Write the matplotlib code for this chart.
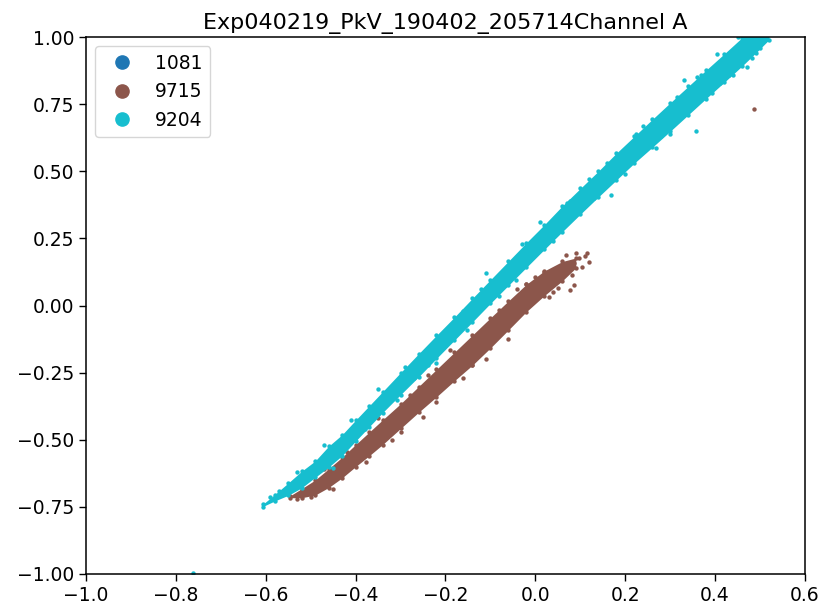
import numpy as np
import matplotlib
matplotlib.use('Agg')
import matplotlib.pyplot as plt
from matplotlib.lines import Line2D

# Data

title = 'Exp040219_PkV_190402_205714Channel A'
labels = ['1081', '9715', '9204']
colors = ['#1f77b4', '#8c564b', '#17becf']

# band 9204 (cyan): x and upper / lower edges of the dense point cloud
cyan_x = [-0.607, -0.58, -0.55, -0.52, -0.49, -0.46, -0.43, -0.40, -0.37, -0.34, -0.30, -0.26, -0.22, -0.18,
          -0.14, -0.10, -0.06, -0.02, 0.02, 0.06, 0.10, 0.14, 0.18, 0.22, 0.26, 0.30, 0.34, 0.38, 0.42, 0.46,
          0.49, 0.52]
cyan_hi = [-0.741, -0.704, -0.661, -0.617, -0.579, -0.524, -0.481, -0.427, -0.374, -0.321, -0.250, -0.180,
           -0.111, -0.043, 0.027, 0.096, 0.165, 0.234, 0.301, 0.371, 0.436, 0.500, 0.567, 0.630, 0.693, 0.755,
           0.816, 0.877, 0.937, 0.998, 1.04, 1.06]
cyan_lo = [-0.749, -0.728, -0.707, -0.679, -0.640, -0.602, -0.559, -0.505, -0.452, -0.399, -0.332, -0.266,
           -0.197, -0.129, -0.061, 0.008, 0.075, 0.142, 0.209, 0.275, 0.340, 0.404, 0.467, 0.530, 0.589, 0.649,
           0.710, 0.771, 0.831, 0.892, 0.94, 0.99]
# loose cyan points around the band
cyan_px = [-0.59, -0.57, -0.53, -0.47, -0.45, -0.41, -0.38, -0.309, -0.29, -0.24, -0.22, -0.20, -0.153, -0.12,
           -0.08, -0.042, -0.03, 0.01, 0.04, 0.076, 0.12, 0.16, 0.169, 0.224, 0.269, 0.316, 0.358, 0.369, 0.393,
           0.404, 0.431, 0.44, 0.482, 0.45, 0.50, 0.51, 0.33, 0.28, 0.20, -0.35, -0.27, -0.16, -0.11, -0.05,
           0.07, 0.13, 0.24, 0.30, 0.36, 0.41, 0.47, -0.762]
cyan_py = [-0.715, -0.690, -0.62, -0.52, -0.605, -0.425, -0.46, -0.352, -0.23, -0.222, -0.214, -0.10, -0.091, 0.06,
           0.035, 0.095, 0.23, 0.31, 0.24, 0.39, 0.47, 0.53, 0.41, 0.64, 0.587, 0.775, 0.65, 0.857, 0.791,
           0.936, 0.858, 0.86, 0.922, 1.0, 0.96, 0.99, 0.84, 0.63, 0.49, -0.31, -0.27, -0.02, 0.12, 0.11,
           0.38, 0.40, 0.67, 0.64, 0.85, 0.83, 0.89, -0.996]

# band 9715 (brown)
brown_x = [-0.545, -0.52, -0.49, -0.46, -0.43, -0.40, -0.37, -0.34, -0.30, -0.26, -0.22, -0.18, -0.14, -0.10,
           -0.06, -0.02, 0.02, 0.06, 0.09]
brown_hi = [-0.708, -0.682, -0.650, -0.608, -0.565, -0.518, -0.472, -0.426, -0.366, -0.302, -0.238, -0.174,
            -0.110, -0.046, 0.017, 0.079, 0.129, 0.164, 0.177]
brown_lo = [-0.716, -0.716, -0.706, -0.678, -0.642, -0.600, -0.560, -0.518, -0.458, -0.398, -0.340, -0.280,
            -0.222, -0.158, -0.091, -0.023, 0.037, 0.092, 0.140]
brown_px = [-0.53, -0.50, -0.47, -0.45, -0.376, -0.35, -0.32, -0.28, -0.25, -0.22, -0.19, -0.16, -0.109, -0.12,
            -0.08, -0.06, -0.04, -0.036, 0.00, 0.02, 0.03, 0.05, 0.069, 0.076, 0.082, 0.087, 0.087, 0.091, 0.098,
            0.104, 0.116, 0.12, 0.11, -0.42, -0.30, -0.24, -0.14, -0.02, 0.04, 0.487]
brown_py = [-0.72, -0.712, -0.61, -0.685, -0.583, -0.42, -0.50, -0.335, -0.415, -0.36, -0.165, -0.27, -0.20, -0.10,
            -0.015, -0.125, 0.06, 0.02, 0.105, 0.126, 0.03, 0.065, 0.188, 0.058, 0.114, 0.076, 0.158, 0.196, 0.177,
            0.143, 0.196, 0.162, 0.185, -0.545, -0.47, -0.26, -0.22, 0.08, 0.05, 0.732]

# series 1081 has no visible points
blue_px = []
blue_py = []

plt.rcParams['font.family'] = 'DejaVu Sans'
plt.rcParams['font.size'] = 13.5

fig = plt.figure(figsize=(8.22, 6.09), dpi=100)
ax = fig.add_axes([0.1046, 0.0575, 0.8747, 0.8817])

ax.scatter(blue_px, blue_py, s=8, color=colors[0], linewidths=0)

ax.fill_between(brown_x, brown_lo, brown_hi, color=colors[1], linewidth=0)
ax.scatter(brown_x, brown_hi, s=10, color=colors[1], linewidths=0)
ax.scatter(brown_x, brown_lo, s=10, color=colors[1], linewidths=0)
ax.scatter(brown_px, brown_py, s=10, color=colors[1], linewidths=0)

ax.fill_between(cyan_x, cyan_lo, cyan_hi, color=colors[2], linewidth=0)
ax.scatter(cyan_x, cyan_hi, s=10, color=colors[2], linewidths=0)
ax.scatter(cyan_x, cyan_lo, s=10, color=colors[2], linewidths=0)
ax.scatter(cyan_px, cyan_py, s=10, color=colors[2], linewidths=0)

ax.set_xlim(-1.0, 0.6)
ax.set_ylim(-1.0, 1.0)
ax.set_xticks(np.arange(-1.0, 0.61, 0.2))
ax.set_yticks(np.arange(-1.0, 1.01, 0.25))
ax.tick_params(length=5, width=1.0)
for sp in ax.spines.values():
    sp.set_linewidth(1.1)

ax.set_title(title, fontsize=16)

handles = [Line2D([], [], linestyle='none', marker='o', markersize=9.5, color=c) for c in colors]
ax.legend(handles, labels, loc='upper left', handletextpad=0.8)

fig.savefig('out.png', dpi=100)
